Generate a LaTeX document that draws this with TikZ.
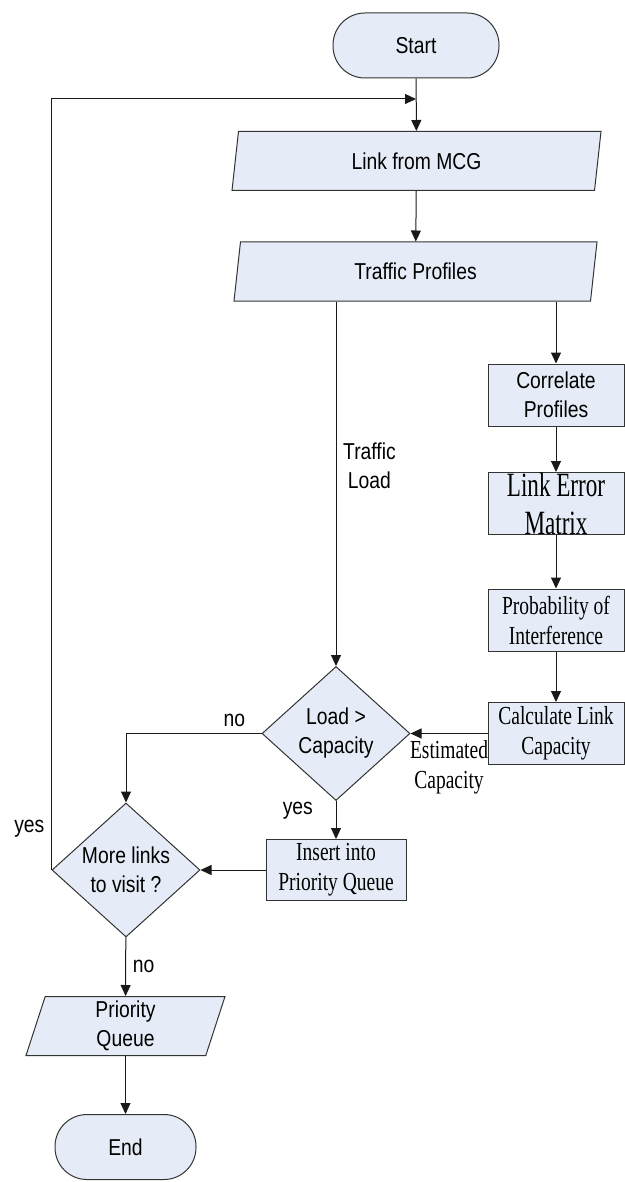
\documentclass[tikz,border=0pt]{standalone}
\usepackage{fontspec}
\setmainfont[FakeStretch=0.75]{Liberation Serif}
\setsansfont[FakeStretch=0.84]{Liberation Sans}
\newfontfamily\tallserif[FakeStretch=0.68]{Liberation Serif}
\usetikzlibrary{shapes.geometric,arrows.meta}
\definecolor{boxfill}{RGB}{230,236,247}

\begin{document}
\begin{tikzpicture}[>={Triangle[length=5.5pt,width=5pt]},x=0.5pt,y=-0.5pt,line width=0.5pt,
	sftext/.style={font=\sffamily\fontsize{11.5}{14.5}\selectfont,align=center},
	rmtext/.style={font=\rmfamily\fontsize{13}{15}\selectfont,align=center},
	blk/.style={fill=boxfill,draw=black!80,inner sep=0pt},
	term/.style={blk,sftext,rectangle,rounded corners=16pt,minimum height=32.5pt},
	io/.style={blk,sftext,trapezium,trapezium left angle=69,trapezium right angle=111,trapezium stretches body,minimum height=29.5pt},
	proc/.style={blk,rmtext,rectangle,minimum width=68pt,minimum height=31pt},
	dec/.style={blk,sftext,diamond,aspect=1.1,minimum width=74pt,minimum height=67pt},
	lbl/.style={sftext},
	con/.style={draw=black!90,->}]
	\useasboundingbox (0,0) rectangle (625,1182);
	\node[term,minimum width=83pt] (start) at (416,45.5) {Start};
	\node[io,minimum width=184.5pt] (link) at (416.5,161) {Link from MCG};
	\node[io,minimum width=181.5pt] (traffic) at (415.5,271.5) {Traffic Profiles};
	\node[proc,sftext] (corr) at (556,395) {Correlate\\Profiles};
	\node[proc,font=\tallserif\fontsize{17}{19}\selectfont] (lem) at (556,503.5) {Link Error\\Matrix};
	\node[proc] (prob) at (556,620) {Probability of\\Interference};
	\node[proc] (calc) at (556,733.5) {Calculate Link\\Capacity};
	\node[dec] (load) at (336,733.5) {Load >\\Capacity};
	\node[proc,minimum width=70pt,minimum height=30.5pt] (ins) at (336,870) {Insert into\\Priority Queue};
	\node[dec] (more) at (126,870) {More links\\to visit ?};
	\node[io,minimum width=99.5pt] (pq) at (125.5,1026) {Priority\\Queue};
	\node[term,minimum width=70.5pt] (end) at (125.5,1147) {End};
	\coordinate (join) at (416,99);
	\draw[con] (start) -- (link);
	\draw[con] (link) -- (traffic);
	\draw[con] (traffic.south -| corr) -- (corr);
	\draw[con] (corr) -- (lem);
	\draw[con] (lem) -- (prob);
	\draw[con] (prob) -- (calc);
	\draw[con] (traffic.south -| load) -- node[lbl,right,pos=0.45]{Traffic\\Load} (load);
	\draw[con] (calc) -- node[rmtext,below]{Estimated\\Capacity} (load);
	\draw[con] (load) -| node[lbl,above,pos=0.1]{no} (more);
	\draw[con] (load) -- node[lbl,left=8pt,pos=0.25]{yes} (ins);
	\draw[con] (ins) -- (more);
	\draw[con] (more.west) |- node[lbl,left,pos=0.027]{yes} (join);
	\draw[con] (more) -- node[lbl,right]{no} (pq);
	\draw[con] (pq) -- (end);
\end{tikzpicture}
\end{document}
